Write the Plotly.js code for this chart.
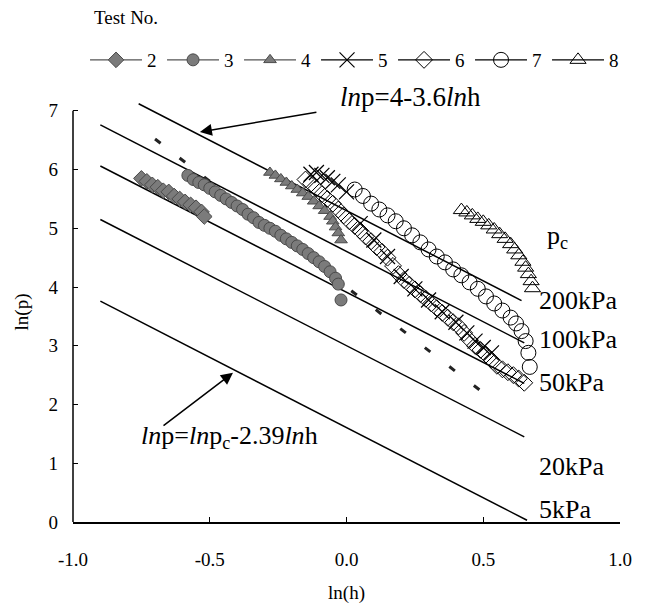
<!DOCTYPE html>
<html><head><meta charset="utf-8">
<script src="https://cdn.plot.ly/plotly-3.0.1.min.js"></script>
<style>html,body{margin:0;padding:0;background:#fff}</style>
</head><body><div id="chart" style="width:662px;height:605px"></div>
<script>
// Model lines (ln p = ln pc - 2.39 ln h), endpoints
const pcLabels = ['200kPa','100kPa','50kPa','20kPa','5kPa'];
const lineX0 = [-0.76,-0.9,-0.9,-0.9,-0.9];
const lineY0 = [7.12,6.76,6.06,5.15,3.76];
const lineX1 = [0.64,0.65,0.65,0.65,0.66];
const lineY1 = [3.77,3.05,2.36,1.45,0.03];
const labelY = [3.77,3.10,2.37,0.94,0.22];
// Dashed line ln p = 4 - 3.6 ln h
const dashX = [-0.7,0.5];
const dashY = [6.52,2.2];

// Test series
const testNames = ['2','3','4','5','6','7','8'];
const t2x = [-0.75,-0.73,-0.71,-0.69,-0.67,-0.65,-0.63,-0.61,-0.59,-0.57,-0.55,-0.53,-0.52];
const t2y = [5.85,5.80,5.74,5.70,5.64,5.62,5.55,5.50,5.45,5.40,5.35,5.28,5.20];
const t3x = [-0.58,-0.56,-0.54,-0.52,-0.50,-0.48,-0.46,-0.44,-0.42,-0.40,-0.38,-0.36,-0.34,-0.32,-0.30,-0.28,-0.26,-0.24,-0.22,-0.20,-0.18,-0.16,-0.14,-0.12,-0.10,-0.08,-0.06,-0.04,-0.03,-0.02];
const t3y = [5.90,5.83,5.78,5.74,5.68,5.62,5.56,5.50,5.44,5.38,5.32,5.24,5.18,5.10,5.05,5.00,4.95,4.88,4.82,4.76,4.70,4.64,4.57,4.50,4.43,4.35,4.26,4.15,4.05,3.78];
const t4x = [-0.28,-0.26,-0.24,-0.22,-0.20,-0.18,-0.16,-0.14,-0.12,-0.10,-0.08,-0.06,-0.05,-0.04,-0.03,-0.02];
const t4y = [5.95,5.90,5.84,5.78,5.72,5.66,5.60,5.54,5.46,5.38,5.30,5.20,5.12,5.02,4.92,4.80];
const t5x = [-0.13,-0.11,-0.09,-0.07,-0.05,-0.03,0.0,0.05,0.10,0.15,0.20,0.25,0.30,0.35,0.40,0.44,0.47,0.50,0.53];
const t5y = [5.92,5.95,5.90,5.86,5.80,5.74,5.62,5.08,4.80,4.52,4.18,3.97,3.78,3.58,3.40,3.22,3.08,2.97,2.88];
const t6x = [-0.15,-0.13,-0.11,-0.09,-0.07,-0.05,-0.03,-0.01,0.01,0.03,0.05,0.07,0.09,0.11,0.13,0.15,0.17,0.19,0.21,0.23,0.25,0.27,0.29,0.31,0.33,0.35,0.37,0.39,0.41,0.43,0.45,0.47,0.49,0.51,0.53,0.55,0.57,0.59,0.61,0.63,0.65];
const t6y = [5.83,5.76,5.68,5.58,5.50,5.42,5.32,5.22,5.12,5.04,4.96,4.86,4.78,4.68,4.60,4.50,4.36,4.22,4.12,4.04,3.96,3.88,3.80,3.72,3.64,3.56,3.48,3.40,3.33,3.22,3.10,3.00,2.93,2.85,2.76,2.66,2.60,2.55,2.50,2.44,2.37];
const t7x = [0.03,0.06,0.09,0.12,0.15,0.18,0.21,0.24,0.27,0.30,0.33,0.36,0.39,0.42,0.45,0.48,0.51,0.54,0.57,0.60,0.62,0.64,0.655,0.665,0.67];
const t7y = [5.66,5.55,5.42,5.32,5.22,5.12,5.00,4.88,4.76,4.64,4.52,4.42,4.30,4.20,4.08,3.97,3.84,3.72,3.60,3.48,3.38,3.25,3.08,2.88,2.64];
const t8x = [0.42,0.44,0.46,0.48,0.50,0.52,0.54,0.56,0.58,0.60,0.615,0.63,0.645,0.655,0.665,0.675,0.68];
const t8y = [5.31,5.27,5.22,5.16,5.11,5.05,4.98,4.90,4.82,4.73,4.64,4.54,4.43,4.33,4.22,4.10,3.98];

const xTicks = [-1,-0.5,0,0.5,1];
const xTickText = ['-1.0','-0.5','0.0','0.5','1.0'];
const yTicks = [0,1,2,3,4,5,6,7];

const seriesX = [t2x,t3x,t4x,t5x,t6x,t7x,t8x];
const seriesY = [t2y,t3y,t4y,t5y,t6y,t7y,t8y];
const gray = '#7b7b7b', dgray = '#4a4a4a';
const markers = [
  {symbol:'diamond', size:12, color:gray, line:{color:dgray,width:1}},
  {symbol:'circle', size:12, color:gray, line:{color:dgray,width:1}},
  {symbol:'triangle-up', size:11, color:gray, line:{color:dgray,width:1}},
  {symbol:'x-thin-open', size:15, color:'#000', line:{color:'#000',width:1.2}},
  {symbol:'diamond-open', size:13, color:'#000', line:{color:'#000',width:1}},
  {symbol:'circle-open', size:15, color:'#000', line:{color:'#000',width:1}},
  {symbol:'triangle-up-open', size:14, color:'#000', line:{color:'#000',width:1}}
];

const serif = 'Liberation Serif';
const traces = [];
for (let i=0;i<pcLabels.length;i++){
  traces.push({x:[lineX0[i],lineX1[i]], y:[lineY0[i],lineY1[i]], mode:'lines',
    line:{color:'#000',width:1.5}, showlegend:false, hoverinfo:'skip'});
}
traces.push({x:dashX, y:dashY, mode:'lines', line:{color:'#222',width:3,dash:'7px,24px'},
  showlegend:false, hoverinfo:'skip'});
for (let i=0;i<testNames.length;i++){
  traces.push({x:seriesX[i], y:seriesY[i], mode:'markers', marker:markers[i],
    showlegend:false, cliponaxis:false});
}
for (let i=0;i<testNames.length;i++){
  traces.push({x:[null], y:[null], mode:'lines+markers', name:testNames[i],
    marker:markers[i], line:{color: i<3 ? '#555' : '#000', width:1.2}, showlegend:true});
}

const annotations = [
  {xref:'paper', yref:'paper', x:0.035, y:1.202, xanchor:'left', yanchor:'middle',
   text:'Test No.', showarrow:false, font:{family:serif,size:19,color:'#000'}},
  {x:-0.536, y:6.64, ax:118, ay:-20, text:' ', font:{size:1}, showarrow:true,
   arrowhead:2, arrowsize:1.6, arrowwidth:1.5, arrowcolor:'#000'},
  {x:-0.415, y:2.54, ax:-71, ay:54, text:' ', font:{size:1}, showarrow:true,
   arrowhead:2, arrowsize:1.6, arrowwidth:1.5, arrowcolor:'#000'},
  {xref:'paper', yref:'paper', x:0.4845, y:1.012, xanchor:'left', yanchor:'middle', showarrow:false,
   text:'<i>ln</i>p=4-3.6<i>ln</i>h', font:{family:serif,size:27,color:'#000'}},
  {x:-0.426, y:1.45, xanchor:'center', yanchor:'middle', showarrow:false,
   text:'<i>ln</i>p=<i>ln</i>p<sub>c</sub>-2.39<i>ln</i>h', font:{family:serif,size:26,color:'#000'}},
  {x:0.726, y:4.86, xanchor:'left', yanchor:'middle', showarrow:false,
   text:'p<sub>c</sub>', font:{family:serif,size:26,color:'#000'}}
];
for (let i=0;i<pcLabels.length;i++){
  annotations.push({x:0.697, y:labelY[i], xanchor:'left', yanchor:'middle', showarrow:false,
    text:pcLabels[i], font:{family:serif,size:26,color:'#000'}});
}

const layout = {
  width:662, height:605,
  margin:{l:73, r:42, t:102, b:83},
  paper_bgcolor:'#fff', plot_bgcolor:'#fff',
  font:{family:serif, color:'#000'},
  xaxis:{range:[-1,1], tickvals:xTicks, ticktext:xTickText, ticks:'inside', ticklen:5,
    tickcolor:'#000', showline:true, linecolor:'#000', linewidth:1.5, showgrid:false,
    zeroline:false, tickfont:{family:serif,size:19}, ticklabelstandoff:20,
    title:{text:'ln(h)', font:{family:serif,size:19}, standoff:16}},
  yaxis:{range:[0,7.15], tickvals:yTicks, ticks:'inside', ticklen:5, tickcolor:'#000',
    showline:false, showgrid:false, zeroline:false, tickfont:{family:serif,size:19},
    ticklabelstandoff:14, title:{text:'ln(p)', font:{family:serif,size:19}, standoff:14}},
  shapes:[{type:'line', xref:'paper', yref:'y', x0:0, x1:0, y0:0, y1:7,
    line:{color:'#000', width:1.5}}],
  legend:{orientation:'h', x:0.022, y:1.1, xanchor:'left', yanchor:'middle',
    entrywidth:10, entrywidthmode:'pixels', itemwidth:52,
    font:{family:serif,size:19,color:'#000'}, bgcolor:'rgba(0,0,0,0)'},
  annotations:annotations,
  showlegend:true
};
Plotly.newPlot('chart', traces, layout, {displayModeBar:false, staticPlot:true});
</script></body></html>
